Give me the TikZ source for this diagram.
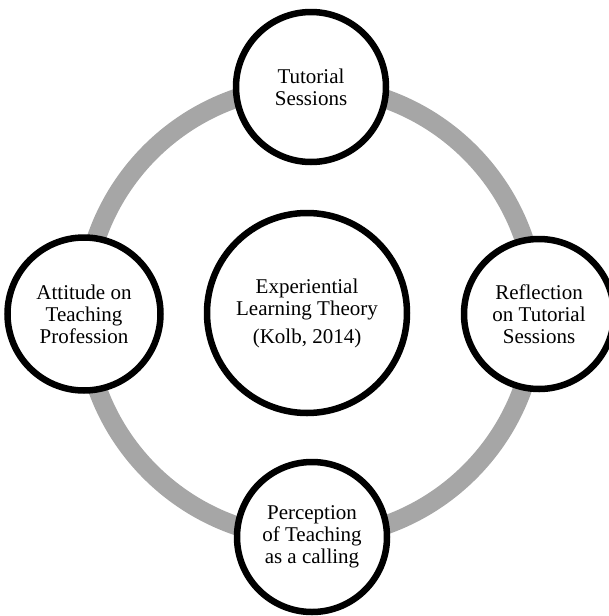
\documentclass[tikz,border=0pt]{standalone}
\usepackage{fontspec}
\setmainfont{Liberation Serif}
\usetikzlibrary{shadows}
\definecolor{ringgray}{RGB}{166,166,166}
\tikzset{
  bubble/.style={circle, draw=black, line width=6.5pt, fill=white, align=center,
    inner sep=0pt, minimum size=150pt, font=\fontsize{21}{22}\selectfont,
    drop shadow={shadow xshift=1.5pt, shadow yshift=-1.5pt, opacity=0.15, fill=black}},
  hub/.style={bubble, minimum size=200pt},
  ring/.style={draw=ringgray, line width=19pt}
}
\begin{document}
\begin{tikzpicture}[x=1pt,y=-1pt]
\useasboundingbox (0,0) rectangle (609,616);
\coordinate (ringc) at (310,312);
\draw[ring] (ringc) circle[radius=226];
\node[hub] (hub) at (307,313) {Experiential\\Learning Theory\\[6pt](Kolb, 2014)};
\node[bubble] (top) at (311,87) {Tutorial\\Sessions};
\node[bubble, minimum size=153pt] (left) at (84,314) {Attitude on\\Teaching\\Profession};
\node[bubble] (right) at (539,314) {Reflection\\on Tutorial\\Sessions};
\node[bubble] (bottom) at (312,537) {Perception\\of Teaching\\as a calling};
\end{tikzpicture}
\end{document}
